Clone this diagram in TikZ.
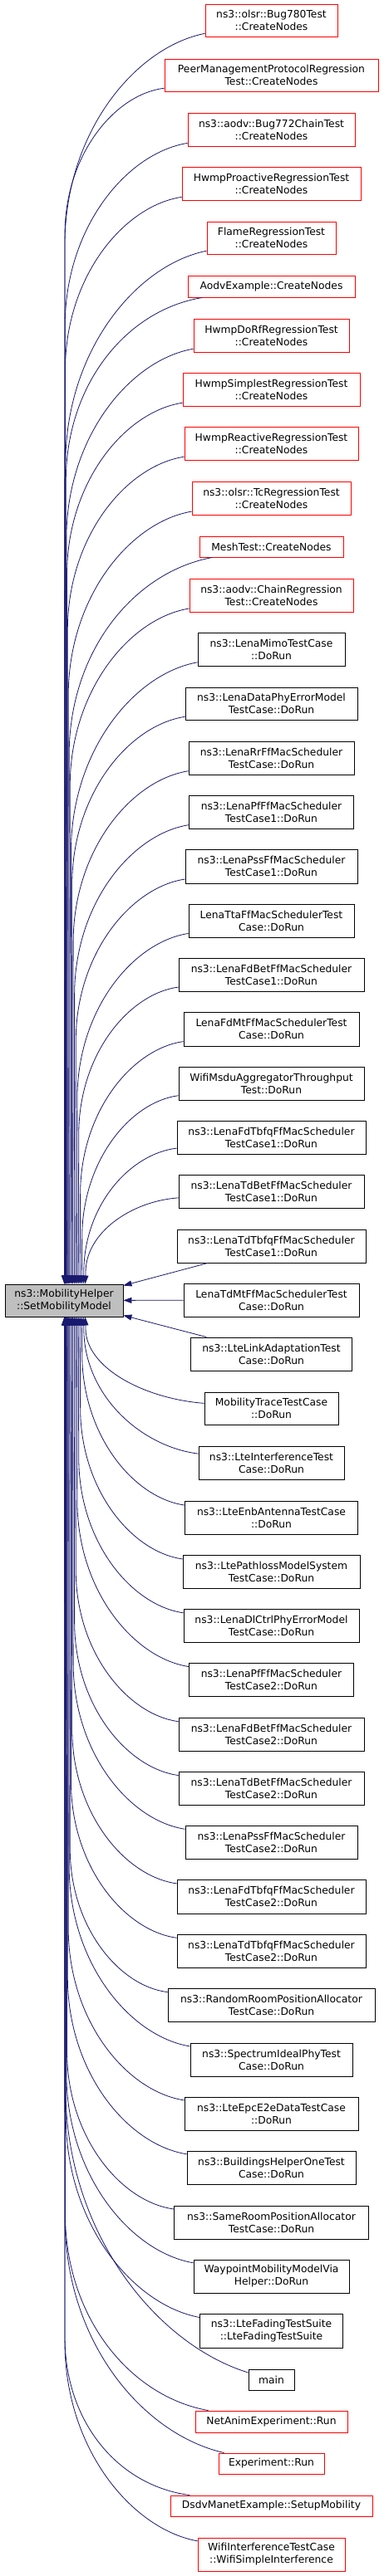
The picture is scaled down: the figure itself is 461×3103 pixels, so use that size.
\documentclass[tikz,border=0pt]{standalone}
\usepackage{fontspec}
\newfontfamily\dvs{DejaVu Sans}
\usetikzlibrary{arrows.meta}
\definecolor{edgec}{RGB}{25,25,112}
\definecolor{redc}{RGB}{255,0,0}
\definecolor{grayc}{RGB}{191,191,191}
\newcommand\nf{\dvs\fontsize{12.3pt}{15pt}\selectfont}
\newcommand\nd[6]{\node[#5, minimum width=#3pt, minimum height=#4pt] (#1) at (326.5,#2) {#6};}
\newcommand\uedge[3]{%
 \pgfmathsetmacro\myx{(#1-1)/22}%
 \pgfmathsetmacro\myxe{78+25*\myx*\myx}%
 \pgfmathsetmacro\myxs{326.5-#3}%
 \pgfmathsetmacro\mydx{\myxs-\myxe}%
 \pgfmathsetmacro\mydy{1547-#2}%
 \pgfmathsetmacro\myh{min(\mydy-14,1.6*\mydx)}%
 \pgfmathsetmacro\myca{\myxs-0.5*\mydx}%
 \pgfmathsetmacro\mycay{#2+0.12*\myh}%
 \pgfmathsetmacro\mycby{#2+0.5*\myh}%
 \pgfmathsetmacro\myby{#2+\myh}%
 \pgfmathsetmacro\myxo{\myxe-6}%
 \draw[edge] (n#1) .. controls (\myca,\mycay) and (\myxe,\mycby) .. (\myxe,\myby) -- ([xshift=\myxo pt]L.north west);
}
\newcommand\ledge[3]{%
 \pgfmathsetmacro\myx{(49-#1)/22}%
 \pgfmathsetmacro\myxe{78+25*\myx*\myx}%
 \pgfmathsetmacro\myxs{326.5-#3}%
 \pgfmathsetmacro\mydx{\myxs-\myxe}%
 \pgfmathsetmacro\mydy{#2-1586}%
 \pgfmathsetmacro\myh{min(\mydy-14,1.6*\mydx)}%
 \pgfmathsetmacro\myca{\myxs-0.5*\mydx}%
 \pgfmathsetmacro\mycay{#2-0.12*\myh}%
 \pgfmathsetmacro\mycby{#2-0.5*\myh}%
 \pgfmathsetmacro\myby{#2-\myh}%
 \pgfmathsetmacro\myxo{\myxe-6}%
 \draw[edge] (n#1) .. controls (\myca,\mycay) and (\myxe,\mycby) .. (\myxe,\myby) -- ([xshift=\myxo pt]L.south west);
}
\begin{document}
\begin{tikzpicture}[x=1pt,y=-1pt,
  rbox/.style={draw=redc, fill=white, line width=0.9pt, align=center, inner sep=0pt, font=\nf},
  bbox/.style={draw=black, fill=white, line width=0.9pt, align=center, inner sep=0pt, font=\nf},
  gbox/.style={draw=black, fill=grayc, line width=0.9pt, align=center, inner sep=0pt, font=\nf},
  edge/.style={draw=edgec, line width=0.8pt, -{Triangle[length=10pt,width=7pt]}}]
\fill[white] (0,0) rectangle (461,3103);
\useasboundingbox (0,0) rectangle (461,3103);
\node[gbox, minimum width=142pt, minimum height=39pt] (L) at (77,1566.5) {ns3::MobilityHelper\\::SetMobilityModel};
\nd{n1}{24.5}{159}{39}{rbox}{ns3::olsr::Bug780Test\\::CreateNodes}
\nd{n2}{90.5}{257}{39}{rbox}{PeerManagementProtocolRegression\\Test::CreateNodes}
\nd{n3}{156}{201}{40}{rbox}{ns3::aodv::Bug772ChainTest\\::CreateNodes}
\nd{n4}{221}{215}{40}{rbox}{HwmpProactiveRegressionTest\\::CreateNodes}
\nd{n5}{286.5}{155}{39}{rbox}{FlameRegressionTest\\::CreateNodes}
\nd{n6}{345}{201}{26}{rbox}{AodvExample::CreateNodes}
\nd{n7}{404}{187}{40}{rbox}{HwmpDoRfRegressionTest\\::CreateNodes}
\nd{n8}{469}{213}{40}{rbox}{HwmpSimplestRegressionTest\\::CreateNodes}
\nd{n9}{534}{209}{40}{rbox}{HwmpReactiveRegressionTest\\::CreateNodes}
\nd{n10}{600}{191}{40}{rbox}{ns3::olsr::TcRegressionTest\\::CreateNodes}
\nd{n11}{658.5}{173}{25}{rbox}{MeshTest::CreateNodes}
\nd{n12}{717}{197}{40}{rbox}{ns3::aodv::ChainRegression\\Test::CreateNodes}
\nd{n13}{782}{177}{40}{bbox}{ns3::LenaMimoTestCase\\::DoRun}
\nd{n14}{847.5}{207}{39}{bbox}{ns3::LenaDataPhyErrorModel\\TestCase::DoRun}
\nd{n15}{913}{199}{40}{bbox}{ns3::LenaRrFfMacScheduler\\TestCase::DoRun}
\nd{n16}{978}{198}{40}{bbox}{ns3::LenaPfFfMacScheduler\\TestCase1::DoRun}
\nd{n17}{1043.5}{207}{41}{bbox}{ns3::LenaPssFfMacScheduler\\TestCase1::DoRun}
\nd{n18}{1109}{199}{40}{bbox}{LenaTtaFfMacSchedulerTest\\Case::DoRun}
\nd{n19}{1174}{223}{40}{bbox}{ns3::LenaFdBetFfMacScheduler\\TestCase1::DoRun}
\nd{n20}{1239.5}{211}{41}{bbox}{LenaFdMtFfMacSchedulerTest\\Case::DoRun}
\nd{n21}{1305}{223}{40}{bbox}{WifiMsduAggregatorThroughput\\Test::DoRun}
\nd{n22}{1370}{227}{40}{bbox}{ns3::LenaFdTbfqFfMacScheduler\\TestCase1::DoRun}
\nd{n23}{1435}{223}{40}{bbox}{ns3::LenaTdBetFfMacScheduler\\TestCase1::DoRun}
\nd{n24}{1501}{227}{40}{bbox}{ns3::LenaTdTbfqFfMacScheduler\\TestCase1::DoRun}
\nd{n25}{1566}{211}{40}{bbox}{LenaTdMtFfMacSchedulerTest\\Case::DoRun}
\nd{n26}{1631}{194}{40}{bbox}{ns3::LteLinkAdaptationTest\\Case::DoRun}
\nd{n27}{1696.5}{161}{39}{bbox}{MobilityTraceTestCase\\::DoRun}
\nd{n28}{1762}{175}{40}{bbox}{ns3::LteInterferenceTest\\Case::DoRun}
\nd{n29}{1828}{208}{40}{bbox}{ns3::LteEnbAntennaTestCase\\::DoRun}
\nd{n30}{1893}{213}{40}{bbox}{ns3::LtePathlossModelSystem\\TestCase::DoRun}
\nd{n31}{1958}{211}{40}{bbox}{ns3::LenaDlCtrlPhyErrorModel\\TestCase::DoRun}
\nd{n32}{2023}{198}{40}{bbox}{ns3::LenaPfFfMacScheduler\\TestCase2::DoRun}
\nd{n33}{2089}{223}{40}{bbox}{ns3::LenaFdBetFfMacScheduler\\TestCase2::DoRun}
\nd{n34}{2154}{223}{40}{bbox}{ns3::LenaTdBetFfMacScheduler\\TestCase2::DoRun}
\nd{n35}{2219}{207}{40}{bbox}{ns3::LenaPssFfMacScheduler\\TestCase2::DoRun}
\nd{n36}{2284.5}{227}{41}{bbox}{ns3::LenaFdTbfqFfMacScheduler\\TestCase2::DoRun}
\nd{n37}{2350}{227}{40}{bbox}{ns3::LenaTdTbfqFfMacScheduler\\TestCase2::DoRun}
\nd{n38}{2415}{249}{40}{bbox}{ns3::RandomRoomPositionAllocator\\TestCase::DoRun}
\nd{n39}{2481}{195}{40}{bbox}{ns3::SpectrumIdealPhyTest\\Case::DoRun}
\nd{n40}{2546}{209}{40}{bbox}{ns3::LteEpcE2eDataTestCase\\::DoRun}
\nd{n41}{2611}{203}{40}{bbox}{ns3::BuildingsHelperOneTest\\Case::DoRun}
\nd{n42}{2677}{234}{40}{bbox}{ns3::SameRoomPositionAllocator\\TestCase::DoRun}
\nd{n43}{2742}{187}{40}{bbox}{WaypointMobilityModelVia\\Helper::DoRun}
\nd{n44}{2807.5}{172}{41}{bbox}{ns3::LteFadingTestSuite\\::LteFadingTestSuite}
\nd{n45}{2866.5}{55}{25}{bbox}{main}
\nd{n46}{2917}{183}{26}{rbox}{NetAnimExperiment::Run}
\nd{n47}{2967.5}{127}{25}{rbox}{Experiment::Run}
\nd{n48}{3018.5}{243}{25}{rbox}{DsdvManetExample::SetupMobility}
\nd{n49}{3077}{177}{40}{rbox}{WifiInterferenceTestCase\\::WifiSimpleInterference}
\uedge{1}{24.5}{79.5}
\uedge{2}{90.5}{128.5}
\uedge{3}{156}{100.5}
\uedge{4}{221}{107.5}
\uedge{5}{286.5}{77.5}
\uedge{6}{345}{100.5}
\uedge{7}{404}{93.5}
\uedge{8}{469}{106.5}
\uedge{9}{534}{104.5}
\uedge{10}{600}{95.5}
\uedge{11}{658.5}{86.5}
\uedge{12}{717}{98.5}
\uedge{13}{782}{88.5}
\uedge{14}{847.5}{103.5}
\uedge{15}{913}{99.5}
\uedge{16}{978}{99}
\uedge{17}{1043.5}{103.5}
\uedge{18}{1109}{99.5}
\uedge{19}{1174}{111.5}
\uedge{20}{1239.5}{105.5}
\uedge{21}{1305}{111.5}
\uedge{22}{1370}{113.5}
\uedge{23}{1435}{111.5}
\draw[edge] (n24) -- ([yshift=-2pt]L.north east);
\draw[edge] (n25) -- (L);
\draw[edge] (n26) -- ([yshift=2pt]L.south east);
\ledge{27}{1696.5}{80.5}
\ledge{28}{1762}{87.5}
\ledge{29}{1828}{104}
\ledge{30}{1893}{106.5}
\ledge{31}{1958}{105.5}
\ledge{32}{2023}{99}
\ledge{33}{2089}{111.5}
\ledge{34}{2154}{111.5}
\ledge{35}{2219}{103.5}
\ledge{36}{2284.5}{113.5}
\ledge{37}{2350}{113.5}
\ledge{38}{2415}{124.5}
\ledge{39}{2481}{97.5}
\ledge{40}{2546}{104.5}
\ledge{41}{2611}{101.5}
\ledge{42}{2677}{117}
\ledge{43}{2742}{93.5}
\ledge{44}{2807.5}{86}
\ledge{45}{2866.5}{27.5}
\ledge{46}{2917}{91.5}
\ledge{47}{2967.5}{63.5}
\ledge{48}{3018.5}{121.5}
\ledge{49}{3077}{88.5}
\end{tikzpicture}
\end{document}
